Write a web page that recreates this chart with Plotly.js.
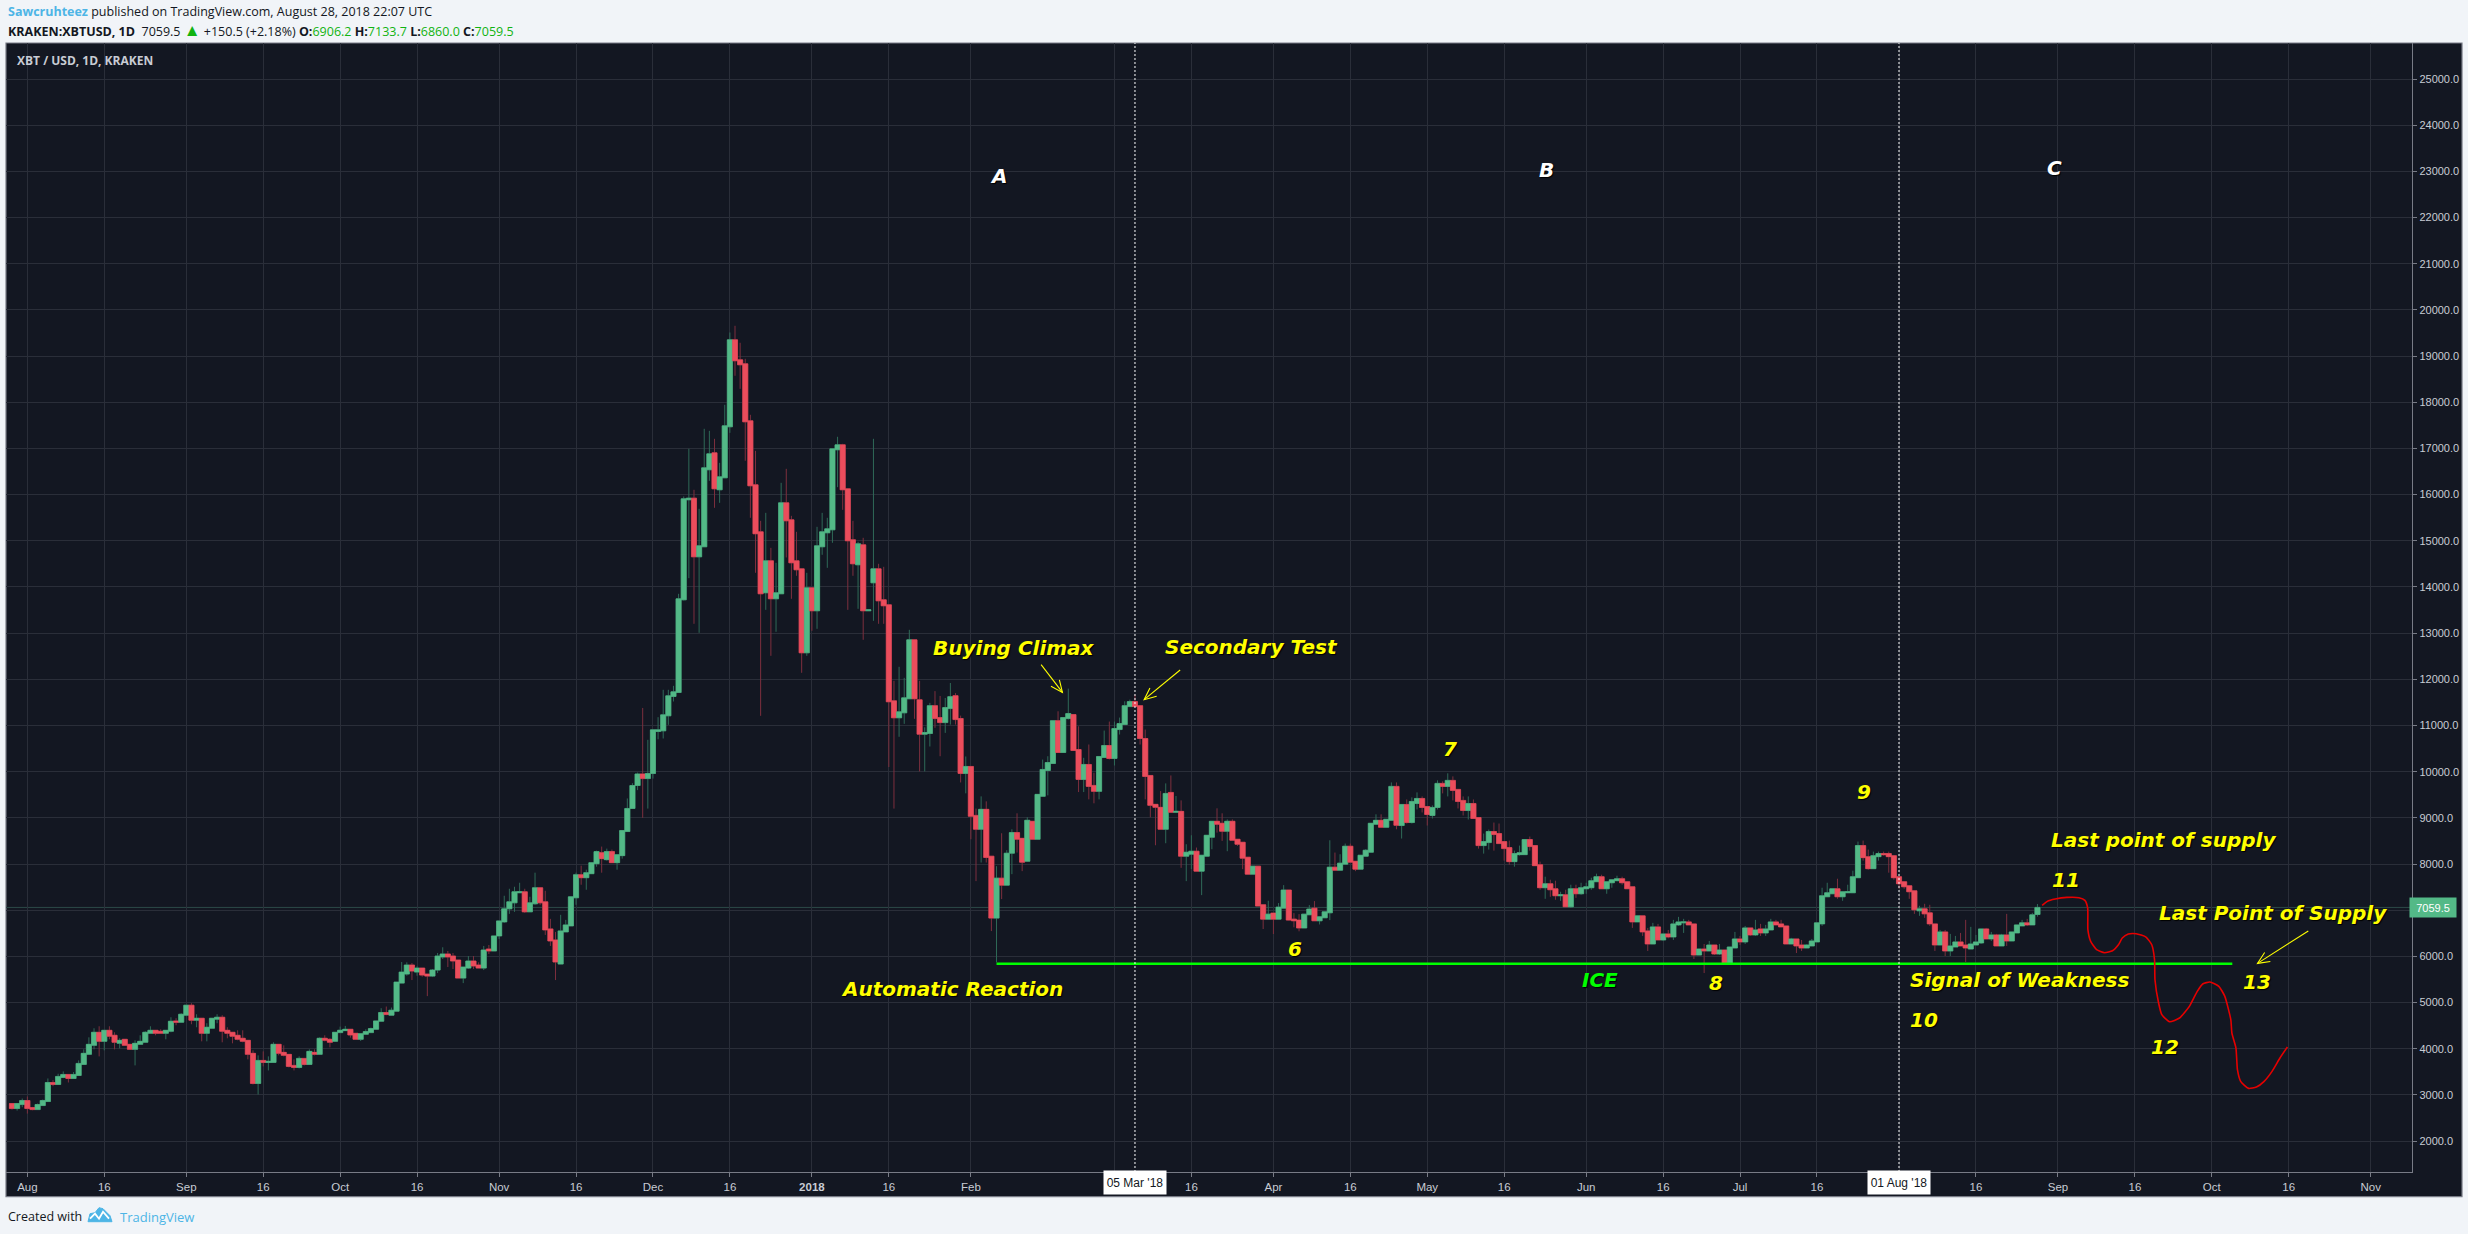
<!DOCTYPE html>
<html><head><meta charset="utf-8">
<script src="https://cdn.plot.ly/plotly-3.0.1.min.js"></script>
<style>html,body{margin:0;padding:0;background:#f1f4f8}#c{width:2468px;height:1234px}</style>
</head><body><div id="c"></div>
<script>
// Daily candles, one small table per month: [open, high, low, close]
const jul2017=[[2812,2812,2681,2703],[2703,2812,2659,2812],[2790,2920,2732,2877]];
const aug2017=[[2877,2964,2594,2703],[2725,2739,2667,2681],[2681,2812,2681,2790],[2768,2899,2768,2877],[2855,3355,2855,3268],[3268,3319,3188,3225],[3225,3457,3225,3399],[3377,3507,3362,3442],[3442,3442,3268,3355],[3355,3493,3355,3442],[3420,3746,3420,3681],[3659,3985,3659,3899],[3877,4246,3870,4094],[4072,4442,3985,4355],[4355,4485,3833,4159],[4159,4398,3964,4398],[4398,4485,4203,4268],[4290,4355,3985,4138],[4116,4225,4007,4181],[4203,4203,4065,4072],[4094,4094,3985,3985],[3985,4181,3638,4116],[4094,4290,4094,4159],[4138,4377,4138,4355],[4333,4485,4333,4398],[4398,4398,4290,4333],[4377,4420,4333,4333],[4333,4398,4203,4398],[4377,4681,4355,4594],[4600,4659,4507,4572],[4572,4768,4572,4746]];
const sep2017=[[4725,4942,4703,4942],[4942,4985,4529,4616],[4616,4746,4464,4659],[4659,4659,4159,4333],[4333,4551,4159,4464],[4442,4659,4442,4659],[4638,4746,4551,4681],[4681,4725,4138,4377],[4398,4464,4225,4333],[4355,4355,4116,4268],[4290,4398,4181,4203],[4225,4398,4138,4159],[4181,4181,3768,3877],[3899,3964,3225,3246],[3246,3855,3007,3746],[3746,3942,3616,3703],[3703,3833,3529,3725],[3703,4138,3703,4094],[4094,4094,3855,3899],[3920,4072,3833,3855],[3877,3877,3594,3616],[3638,3768,3529,3594],[3594,3833,3572,3790],[3790,3790,3638,3659],[3659,3985,3659,3942],[3920,3985,3855,3877],[3877,4246,3877,4225],[4225,4290,4159,4181],[4203,4225,4029,4138],[4159,4355,4159,4355]];
const oct2017=[[4348,4478,4348,4399],[4391,4493,4391,4420],[4420,4420,4239,4297],[4333,4333,4203,4203],[4203,4326,4167,4326],[4312,4420,4312,4370],[4348,4457,4348,4435],[4420,4601,4420,4601],[4594,4877,4594,4783],[4783,4913,4725,4739],[4725,4891,4725,4833],[4812,5442,4812,5442],[5420,5877,5420,5659],[5616,5870,5580,5812],[5812,5855,5486,5681],[5659,5783,5580,5746],[5746,5746,5558,5594],[5616,5616,5138,5572],[5572,5725,5551,5703],[5703,6072,5638,6007],[5986,6196,5942,6051],[6051,6116,5768,5986],[6007,6072,5725,5899],[5920,5920,5529,5529],[5529,5768,5420,5768],[5746,6007,5725,5899],[5899,6007,5725,5790],[5812,5870,5746,5746],[5746,6225,5703,6138],[6159,6246,6051,6116],[6116,6442,6116,6442]];
const nov2017=[[6442,6768,6377,6768],[6746,7312,6725,7029],[7029,7464,6920,7181],[7159,7507,6964,7399],[7377,7594,7377,7399],[7399,7464,6942,6964],[6964,7290,6964,7159],[7138,7812,7116,7486],[7486,7486,7116,7159],[7181,7420,6464,6572],[6594,6812,6225,6333],[6355,6529,5486,5877],[5833,6899,5833,6551],[6529,6790,6529,6681],[6659,7290,6659,7290],[7268,7812,7116,7768],[7768,7964,7551,7703],[7703,7877,7442,7812],[7790,8029,7790,8029],[8007,8290,7942,8268],[8246,8377,7812,8116],[8094,8333,8072,8268],[8268,8312,8029,8029],[8029,8203,7877,8203],[8181,8725,8116,8725],[8703,9420,8703,9203],[9203,9750,9203,9700],[9700,9980,9600,9950],[9950,11380,9000,9850],[9850,10690,9200,9960]];
const dec2017=[[9960,10906,9850,10906],[10870,11180,10700,10906],[10884,11773,10718,11231],[11209,11773,11014,11643],[11628,11859,11520,11729],[11715,13852,11715,13744],[13722,15960,13708,15910],[15888,16993,14191,15924],[15924,16105,13202,14653],[14653,15693,13007,14892],[14870,17426,14870,16581],[16538,17382,16299,16884],[16906,17209,15715,16126],[16105,16689,15823,16386],[16364,17946,16364,17491],[17469,19512,17339,19354],[19354,19657,18574,18899],[18920,19289,18292,18812],[18834,18942,16733,17577],[17599,17729,15498,16191],[16213,16949,14307,15152],[15195,15433,11209,13852],[13874,15606,13505,14567],[14567,14848,12509,13744],[13744,14523,13029,13874],[13852,16256,13852,15823],[15823,16559,14639,15433],[15455,15541,13744,14523],[14567,15195,14242,14372],[14393,14393,12141,12574],[12574,14307,12509,13982]];
const jan2018=[[13982,13982,13050,13484],[13484,15303,13094,14892],[14870,15606,14697,15195],[15173,15498,14415,15260],[15238,16993,14957,16993],[16971,17253,16162,17079],[17079,17101,15671,16105],[16126,16126,13505,15000],[15022,15433,14242,14502],[14480,14978,13527,14935],[14913,15065,12856,13484],[13484,13510,13484,13505],[14090,17209,13267,14393],[14393,14502,13202,13700],[13722,14437,13202,13592],[13614,13614,10100,11513],[11534,11967,9200,11166],[11166,12271,10755,11296],[11274,12032,11036,11599],[11578,13072,11578,12856],[12856,12856,11144,11578],[11556,11967,10005,10811],[10811,10960,10005,10847],[10826,11491,10545,11430],[11430,11744,10950,11150],[11171,11640,10334,11063],[11063,11596,10840,11387],[11366,11920,11020,11625],[11646,11700,11020,11128],[11150,11214,9766,9962],[9962,10329,9530,10113]];
const feb2018=[[10113,10113,8536,9033],[9053,9200,7629,8752],[8752,9465,8032,9184],[9184,9357,8032,8140],[8169,8169,6547,6828],[6828,7953,5870,7694],[7694,8666,7240,7542],[7542,8300,7542,8234],[8234,8752,7780,8680],[8680,9098,8248,8536],[8556,8556,7845,8039],[8059,9012,8059,8947],[8925,8925,8536,8536],[8536,9510,8536,9508],[9465,10262,9465,10048],[10026,10334,9486,10198],[10177,11105,10177,11105],[11105,11308,10415,10415],[10415,11171,10415,11171],[11150,11798,11128,11258],[11236,11236,10458,10458],[10478,10982,9558,9832],[9832,10300,9558,10156],[10156,10588,9400,9681],[9702,9976,9314,9573],[9573,10329,9400,10329],[10307,10890,10307,10566],[10566,11085,10264,10286]];
const mar2018=[[10286,11085,10134,10934],[10912,11171,10804,11042],[11020,11524,11020,11430],[11409,11560,11409,11517],[11517,11668,11409,11409],[11430,11430,10588,10718],[10718,10912,9400,9897],[9918,9918,9011,9270],[9292,9292,8406,9227],[9227,9580,8752,8752],[8752,9746,8450,9528],[9550,9918,9119,9119],[9119,9472,9119,9140],[9140,9378,7917,8169],[8169,8428,7629,8255],[8212,8622,7888,8277],[8277,8356,7845,7845],[7845,8190,7326,8190],[8169,8622,8169,8622],[8579,8925,8320,8925],[8925,9206,8680,8860],[8882,9098,8500,8709],[8709,8966,8277,8925],[8925,8966,8514,8514],[8536,8536,8392,8428],[8471,8471,7888,8126],[8147,8147,7780,7780],[7780,7953,7780,7953],[7953,7953,7089,7089],[7118,7118,6592,6806],[6806,7204,6806,6914]];
const apr2018=[[6936,6936,6484,6806],[6806,7154,6806,7066],[7044,7542,7044,7436],[7436,7436,6778,6785],[6806,6936,6628,6770],[6785,6914,6542,6614],[6614,6914,6614,6914],[6900,7110,6900,7024],[7044,7197,6770,6770],[6770,6850,6691,6857],[6835,6964,6835,6964],[6943,8514,6785,7931],[7931,8248,7866,7866],[7866,8212,7866,8018],[7996,8442,7996,8385],[8385,8442,8039,8039],[8059,8059,7845,7888],[7888,8190,7888,8190],[8169,8320,8169,8298],[8255,8882,8255,8882],[8860,9076,8860,8946],[8946,9076,8795,8795],[8795,8968,8795,8968],[8946,9767,8946,9681],[9681,9767,8752,8838],[8833,9290,8551,9290],[9290,9398,8877,8898],[8898,9442,8877,9355],[9311,9551,9181,9420],[9420,9464,9116,9225]];
const may2018=[[9246,9246,8833,9072],[9051,9268,8985,9225],[9225,9811,9181,9746],[9746,9790,9529,9681],[9681,9964,9464,9811],[9811,9898,9377,9594],[9616,9616,9203,9355],[9377,9464,9051,9159],[9159,9464,8964,9311],[9311,9398,8985,8985],[9007,9007,8333,8399],[8399,8659,8225,8485],[8464,8746,8312,8703],[8703,8898,8290,8638],[8659,8877,8442,8442],[8485,8485,8072,8333],[8355,8507,7985,8051],[8051,8290,7942,8225],[8203,8399,8181,8246],[8203,8529,8203,8529],[8529,8594,8290,8377],[8399,8399,7964,7964],[7985,8051,7442,7486],[7486,7725,7246,7572],[7572,7659,7290,7442],[7464,7638,7225,7312],[7312,7399,7203,7333],[7333,7442,7072,7072],[7072,7551,7051,7464],[7464,7551,7268,7355],[7355,7594,7333,7486]];
const jun2018=[[7464,7594,7355,7507],[7486,7703,7442,7638],[7616,7790,7616,7725],[7725,7768,7464,7464],[7464,7616,7355,7616],[7594,7659,7486,7659],[7638,7746,7638,7681],[7681,7725,7551,7594],[7616,7616,7464,7464],[7507,7507,6616,6746],[6746,6877,6746,6877],[6877,6877,6442,6529],[6551,6616,6116,6268],[6268,6725,6268,6638],[6638,6703,6355,6355],[6355,6486,6333,6486],[6486,6572,6391,6420],[6420,6790,6355,6703],[6681,6855,6660,6746],[6725,6812,6507,6746],[6746,6790,6681,6681],[6703,6703,5942,6029],[6029,6159,6029,6159],[6159,6268,5638,6116],[6116,6333,6116,6246],[6246,6246,6029,6051],[6051,6268,6029,6138],[6138,6138,5812,5833],[5833,6203,5812,6203],[6181,6529,6181,6377]];
const jul2018=[[6377,6442,6246,6312],[6312,6659,6268,6616],[6616,6616,6442,6464],[6464,6790,6442,6572],[6594,6703,6442,6507],[6507,6681,6442,6594],[6572,6812,6572,6746],[6746,6790,6681,6681],[6703,6790,6638,6638],[6659,6659,6268,6268],[6268,6400,6268,6377],[6377,6377,6072,6225],[6246,6355,6116,6181],[6181,6260,6181,6246],[6225,6377,6225,6333],[6312,6725,6312,6725],[6703,7486,6659,7312],[7290,7594,7290,7377],[7355,7464,7355,7464],[7464,7681,7246,7290],[7290,7400,7203,7399],[7377,7551,7377,7399],[7377,7855,7377,7725],[7703,8486,7703,8399],[8399,8507,8072,8138],[8159,8312,7877,7899],[7899,8268,7899,8181],[8159,8268,8072,8225],[8225,8268,8181,8203],[8225,8268,7812,8159],[8181,8181,7659,7703]];
const aug2018=[[7725,7725,7464,7572],[7616,7616,7464,7507],[7529,7529,7246,7399],[7420,7420,6920,7007],[6986,7094,6877,7029],[7029,7138,6833,6920],[6942,7116,6659,6703],[6703,6703,6116,6246],[6246,6572,6246,6529],[6529,6572,6007,6116],[6116,6486,6007,6225],[6203,6442,6203,6312],[6312,6507,6225,6225],[6246,6790,5877,6181],[6159,6638,6159,6268],[6246,6464,6246,6312],[6290,6594,6268,6594],[6594,6616,6377,6377],[6377,6529,6333,6464],[6464,6486,6225,6225],[6225,6486,6225,6464],[6464,6920,6225,6333],[6333,6529,6333,6529],[6507,6681,6507,6681],[6659,6790,6659,6725],[6725,6812,6659,6681],[6681,6942,6681,6899],[6906.2,7133.7,6860.0,7059.5]];
const monthStarts=[['2017-07-29',jul2017],['2017-08-01',aug2017],['2017-09-01',sep2017],['2017-10-01',oct2017],['2017-11-01',nov2017],['2017-12-01',dec2017],['2018-01-01',jan2018],['2018-02-01',feb2018],['2018-03-01',mar2018],['2018-04-01',apr2018],['2018-05-01',may2018],['2018-06-01',jun2018],['2018-07-01',jul2018],['2018-08-01',aug2018]];

const tickDates=['2017-08-01','2017-08-16','2017-09-01','2017-09-16','2017-10-01','2017-10-16','2017-11-01','2017-11-16','2017-12-01','2017-12-16','2018-01-01','2018-01-16','2018-02-01','2018-03-01','2018-03-16','2018-04-01','2018-04-16','2018-05-01','2018-05-16','2018-06-01','2018-06-16','2018-07-01','2018-07-16','2018-08-01','2018-08-16','2018-09-01','2018-09-16','2018-10-01','2018-10-16','2018-11-01'];
const tickLabels=['Aug','16','Sep','16','Oct','16','Nov','16','Dec','16','<b>2018</b>','16','Feb','','16','Apr','16','May','16','Jun','16','Jul','16','','16','Sep','16','Oct','16','Nov'];

const supportDates=['2018-02-06','2018-10-05'];
const supportLevel=[5840,5840];
const forecastDates=['2018-08-28 22:00','2018-08-29 22:00','2018-08-31 11:00','2018-09-02 18:00','2018-09-05 02:00','2018-09-06 06:00','2018-09-06 19:00','2018-09-06 20:00','2018-09-07 09:00','2018-09-08 13:00','2018-09-10 02:00','2018-09-11 15:00','2018-09-12 19:00','2018-09-13 13:00','2018-09-14 17:00','2018-09-16 06:00','2018-09-18 04:00','2018-09-19 07:00','2018-09-19 20:00','2018-09-19 22:00','2018-09-20 15:00','2018-09-21 06:00','2018-09-22 18:00','2018-09-24 17:00','2018-09-26 15:00','2018-09-28 04:00','2018-09-29 07:00','2018-09-30 15:00','2018-10-02 09:00','2018-10-03 13:00','2018-10-04 17:00','2018-10-04 22:00','2018-10-05 17:00','2018-10-06 00:00','2018-10-06 15:00','2018-10-08 04:00','2018-10-09 17:00','2018-10-11 05:00','2018-10-12 18:00','2018-10-14 07:00','2018-10-15 18:00'];
const forecastPrices=[7104,7191,7241,7277,7270,7212,7046,6577,6324,6144,6079,6122,6252,6396,6483,6490,6418,6252,5927,5494,4989,4736,4584,4664,4916,5241,5407,5443,5350,5133,4628,4339,4014,3545,3292,3140,3169,3292,3508,3797,4036];
const lastPrice=7059.5;
const markerDates=['2018-03-05','2018-08-01'];
const markerLabels=["05 Mar '18","01 Aug '18"];

// ---- build candles
const day=86400000;
const xs=[],O=[],H=[],L=[],C=[];
monthStarts.forEach(([start,rows])=>{
  const t0=Date.parse(start+'T00:00:00Z');
  rows.forEach((r,i)=>{
    xs.push(new Date(t0+i*day).toISOString().slice(0,10));
    O.push(r[0]);H.push(r[1]);L.push(r[2]);C.push(r[3]);
  });
});
const bodyHi=O.map((v,i)=>Math.max(v,C[i])), bodyLo=O.map((v,i)=>Math.min(v,C[i]));

// ---- page geometry
const W=2468,HT=1234,mL=6,mR=56.3,mT=43.3,mB=61.7;
const px=x=>(x-mL)/(W-mL-mR), py=y=>1-(y-mT)/(HT-mT-mB);
const UP='#53b987',DOWN='#eb4d5c',BG='#131722',GRID='#2a2e39',AX='#787b86',PAGE='#f1f4f8',YEL='#ffff00';
const TXT='Liberation Sans';

const wick={type:'candlestick',x:xs,open:O,high:H,low:L,close:C,width:2*3600000,hoverinfo:'skip',showlegend:false,
  increasing:{line:{color:'#2f6a58',width:1},fillcolor:'#2f6a58'},
  decreasing:{line:{color:'#7d2f3e',width:1},fillcolor:'#7d2f3e'}};
const body={type:'candlestick',x:xs,open:O,high:bodyHi,low:bodyLo,close:C,width:day*0.87,hoverinfo:'skip',showlegend:false,
  increasing:{line:{color:UP,width:0.5},fillcolor:UP},
  decreasing:{line:{color:DOWN,width:0.5},fillcolor:DOWN}};
const support={type:'scatter',mode:'lines',x:supportDates,y:supportLevel,line:{color:'#00ff00',width:2.6},hoverinfo:'skip',showlegend:false};
const forecast={type:'scatter',mode:'lines',x:forecastDates,y:forecastPrices,line:{color:'#e60000',width:1.6,shape:'spline',smoothing:0.5},hoverinfo:'skip',showlegend:false};

// ---- chart labels, positioned on the page in pixels
const label=(text,x,y,color=YEL,size=20)=>({text,x:px(x),y:py(y),xref:'paper',yref:'paper',xanchor:'center',yanchor:'middle',showarrow:false,
  font:{family:'DejaVu Sans',size,color,weight:700,style:'italic',shadow:'1px 1px 1px #000'}});
const plain=(text,x,y,size,color,family=TXT)=>({text,x:px(x),y:py(y),xref:'paper',yref:'paper',xanchor:'left',yanchor:'middle',showarrow:false,align:'left',font:{family,size,color}});
const GRN='#11b311';
const annotations=[
  label('A',998,176,'#ffffff'),label('B',1546,170,'#ffffff'),label('C',2054,168,'#ffffff'),
  label('Buying Climax',1014,648),label('Secondary Test',1251,647),label('Automatic Reaction',952,989),
  label('6',1295,949),label('7',1450,749),label('8',1716,983),label('9',1864,792),label('10',1924,1020),label('11',2066,880),label('12',2165,1047),label('13',2257,982),
  label('ICE',1600,980,'#00ff00'),label('Signal of Weakness',2019,980),label('Last point of supply',2163,840),label('Last Point of Supply',2273,913),
  plain('<span style="color:#4db5e6"><b>Sawcruhteez</b></span> published on TradingView.com, August 28, 2018 22:07 UTC',6,12,12.5,'#131722','Open Sans'),
  plain(`<b>KRAKEN:XBTUSD, 1D</b>  7059.5 <span style="color:${GRN};font-size:17px">▲</span> +150.5 (+2.18%) <b>O:</b><span style="color:${GRN}">6906.2</span> <b>H:</b><span style="color:${GRN}">7133.7</span> <b>L:</b><span style="color:${GRN}">6860.0</span> <b>C:</b><span style="color:${GRN}">7059.5</span>`,6,30,12.5,'#131722','Open Sans'),
  plain('<b>XBT / USD, 1D, KRAKEN</b>',15,61,12,'#c8ccd4','Open Sans'),
  plain('Created with',6,1217,12.5,'#131722','Open Sans'),
  plain('TradingView',118,1217,13,'#4db5e6','Open Sans'),
  {text:lastPrice.toFixed(1),x:px(2433),xref:'paper',y:lastPrice,yref:'y',xanchor:'center',yanchor:'middle',showarrow:false,width:44,height:17,bgcolor:UP,font:{family:TXT,size:11,color:'#ffffff'}},
];
markerDates.forEach((d,i)=>annotations.push({text:markerLabels[i],x:d,xref:'x',y:py(1183),yref:'paper',xanchor:'center',yanchor:'middle',showarrow:false,width:60,height:21,bgcolor:'#ffffff',font:{family:TXT,size:12,color:'#131722'}}));

const rectPx=(x0,y0,x1,y1,o)=>Object.assign({type:'rect',xref:'paper',yref:'paper',x0:px(x0),x1:px(x1),y0:py(y0),y1:py(y1)},o);
const pathPx=(pts,o,close)=>Object.assign({type:'path',xref:'paper',yref:'paper',path:'M'+pts.map(p=>px(p[0])+','+py(p[1])).join(' L')+(close?' Z':'')},o);
const arrow=(x0,y0,x1,y1)=>{
  const a=Math.atan2(y0-y1,x0-x1),h=13,s=0.42;
  const l={color:YEL,width:1.1};
  return [pathPx([[x0,y0],[x1,y1]],{line:l}),
    pathPx([[x1+h*Math.cos(a+s),y1+h*Math.sin(a+s)],[x1,y1],[x1+h*Math.cos(a-s),y1+h*Math.sin(a-s)]],{line:l})];
};
const shapes=[
  rectPx(6,43.3,2461.7,1197,{fillcolor:BG,line:{color:AX,width:1.2},layer:'below'}),
  {type:'line',xref:'paper',x0:0,x1:1,yref:'y',y0:lastPrice,y1:lastPrice,line:{color:'#2c4a48',width:1},layer:'below'},
  ...markerDates.map(d=>({type:'line',xref:'x',x0:d,x1:d,yref:'paper',y0:0,y1:1,line:{color:'#ffffff',width:1,dash:'2px,2px'}})),
  ...arrow(1041,665,1062.3,692.7),...arrow(1180,670.3,1144,700),...arrow(2308,931.3,2257.2,963.7),
  pathPx([[88,1222],[90,1214],[95,1213],[99,1208],[103,1209],[107,1213],[110,1216],[112,1222]],{fillcolor:'#4db5e6',line:{color:'#4db5e6',width:1}},true),
  pathPx([[90,1219],[95,1214],[99,1219],[103,1212],[109,1219]],{line:{color:'#ffffff',width:1.8}}),
];

const layout={width:W,height:HT,paper_bgcolor:PAGE,plot_bgcolor:BG,margin:{l:mL,r:mR,t:mT,b:mB,pad:0},showlegend:false,dragmode:false,
  boxmode:'overlay',boxgap:0,boxgroupgap:0,
  xaxis:{type:'date',range:['2017-07-27 20:00','2018-11-09 01:00'],rangeslider:{visible:false},tickmode:'array',tickvals:tickDates,ticktext:tickLabels,
    showgrid:true,gridcolor:GRID,gridwidth:1,zeroline:false,showline:true,linecolor:AX,linewidth:1.2,ticks:'outside',ticklen:4,tickcolor:AX,tickwidth:1,
    tickangle:0,tickfont:{family:TXT,size:11.5,color:'#c8ccd4'},fixedrange:true},
  yaxis:{side:'right',range:[1329,25782],tick0:2000,dtick:1000,tickformat:'.1f',showgrid:true,gridcolor:GRID,gridwidth:1,zeroline:false,showline:true,linecolor:AX,linewidth:1.2,
    ticks:'outside',ticklen:4,tickcolor:AX,tickwidth:1,tickfont:{family:TXT,size:11,color:'#c8ccd4'},fixedrange:true},
  shapes,annotations};
Plotly.newPlot('c',[wick,body,support,forecast],layout,{displayModeBar:false,staticPlot:true});
</script></body></html>
